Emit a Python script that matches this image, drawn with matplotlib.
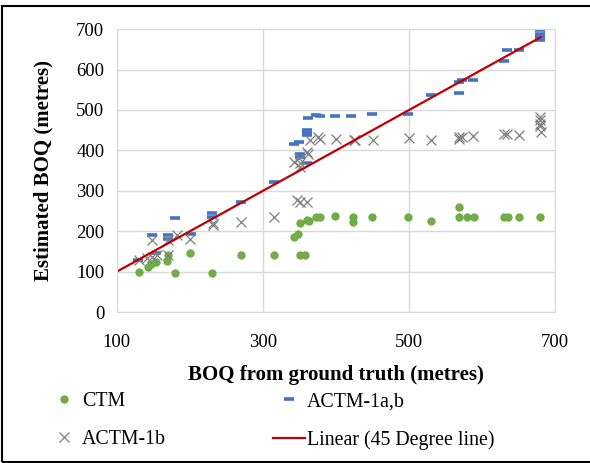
import matplotlib.pyplot as plt
from matplotlib.patches import Rectangle

# values (metres)
ctm_x = [130, 143, 147, 154, 169, 170, 179, 200, 230, 270, 315, 342, 348, 351, 351, 357,
         360, 363, 373, 378, 399, 423, 423, 449, 499, 530, 569, 569, 579, 589, 630, 635, 650, 679]
ctm_y = [100, 112, 118, 124, 126, 141, 96, 147, 96, 140, 140, 185, 193, 221, 141, 141,
         229, 226, 236, 234, 237, 236, 223, 236, 236, 226, 259, 234, 234, 234, 234, 234, 234, 234]

actm1ab_x = [129, 148, 154, 170, 170, 180, 201, 230, 230, 270, 315, 342, 350, 351, 351, 360,
             360, 360, 360, 362, 373, 378, 399, 421, 449, 499, 530, 569, 569, 572, 588, 630,
             634, 650, 679, 679, 679, 679]
actm1ab_y = [129, 190, 147, 190, 180, 232, 193, 244, 236, 273, 322, 416, 421, 392, 384, 369,
             450, 442, 438, 481, 487, 485, 484, 484, 491, 490, 538, 541, 570, 574, 574, 622,
             648, 648, 697, 688, 680, 673]

actm1b_x = [131, 141, 148, 155, 148, 170, 170, 182, 200, 231, 231, 270, 315, 346, 351, 360,
            342, 349, 351, 351, 360, 362, 364, 376, 378, 400, 424, 426, 450, 500, 530, 569,
            569, 572, 588, 630, 634, 650, 679, 679, 679, 679, 680]
actm1b_y = [130, 133, 137, 140, 178, 178, 141, 190, 180, 215, 220, 222, 234, 277, 273, 273,
            372, 380, 370, 360, 396, 392, 425, 433, 429, 427, 425, 425, 425, 430, 425, 428,
            434, 432, 435, 440, 440, 437, 483, 475, 466, 460, 446]

line_x = [100, 680]
line_y = [100, 680]

plt.rcParams['font.family'] = ['Liberation Serif', 'DejaVu Serif']

fig = plt.figure(figsize=(5.9, 4.63), dpi=100)
ax = fig.add_axes([0.198, 0.326, 0.743, 0.611])

ctm, = ax.plot(ctm_x, ctm_y, 'o', color='#70ad47', markersize=6, mew=0, label='CTM')
ab, = ax.plot(actm1ab_x, actm1ab_y, '_', color='#4472c4', markersize=7, mew=2.6,
              label='ACTM-1a,b')
b, = ax.plot(actm1b_x, actm1b_y, 'x', color='#7f7f7f', markersize=7.5, mew=0.9,
             label='ACTM-1b')
lin, = ax.plot(line_x, line_y, '-', color='#c00000', lw=1.6,
               label='Linear (45 Degree line)')

ax.set_xlim(100, 700)
ax.set_ylim(0, 700)
ax.set_xticks([100, 300, 500, 700])
ax.set_yticks(range(0, 701, 100))
ax.grid(True, color='#d9d9d9', lw=1)
ax.set_axisbelow(True)
for s in ax.spines.values():
    s.set_color('#d9d9d9')
ax.tick_params(axis='x', length=0, labelsize=13.5, pad=16)
ax.tick_params(axis='y', length=0, labelsize=13.5, pad=9)

ax.set_xlabel('BOQ from ground truth (metres)', fontsize=15, fontweight='bold', labelpad=10)
ax.set_ylabel('Estimated BOQ (metres)', fontsize=15, fontweight='bold', labelpad=16)

fig.legend([ctm, b, ab, lin], ['CTM', 'ACTM-1b', 'ACTM-1a,b', 'Linear (45 Degree line)'],
           ncol=2, loc='upper left', bbox_to_anchor=(0.068, 0.17), frameon=False,
           fontsize=14.3, handlelength=1.6, handletextpad=0.1, columnspacing=5.4,
           labelspacing=0.95, borderaxespad=0)

# outer chart frame
fig.patches.append(Rectangle((0.004, 0.002), 1.2, 0.984, transform=fig.transFigure,
                             fill=False, edgecolor='black', lw=1.5))

fig.savefig('out.png', dpi=100)
